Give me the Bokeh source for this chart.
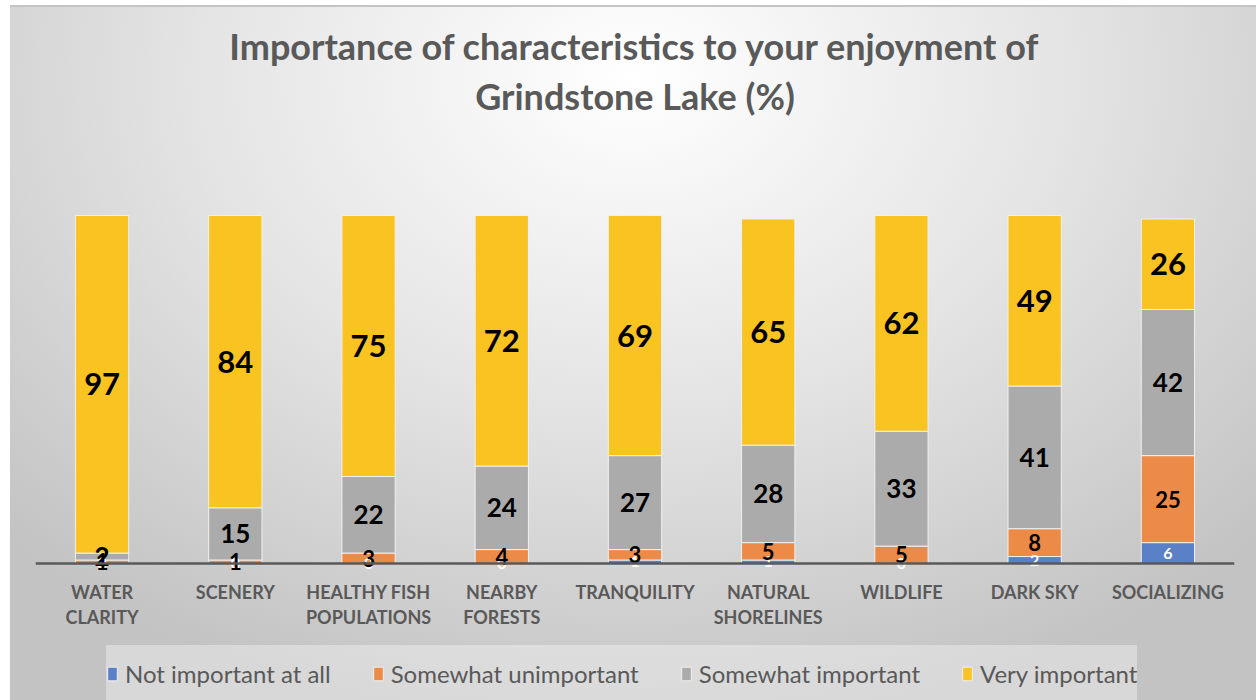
from bokeh.plotting import figure
from bokeh.models import Range1d, FactorRange, Label, Legend, LegendItem, ColumnDataSource
from bokeh.core.properties import value
from bokeh.embed import file_html
from bokeh.resources import INLINE

# ---------------- data ----------------
categories = ["WATER\nCLARITY", "SCENERY", "HEALTHY FISH\nPOPULATIONS", "NEARBY\nFORESTS",
              "TRANQUILITY", "NATURAL\nSHORELINES", "WILDLIFE", "DARK SKY", "SOCIALIZING"]
not_important = [0, 0, 0, 0, 1, 1, 0, 2, 6]
somewhat_unimportant = [1, 1, 3, 4, 3, 5, 5, 8, 25]
somewhat_important = [2, 15, 22, 24, 27, 28, 33, 41, 42]
very_important = [97, 84, 75, 72, 69, 65, 62, 49, 26]
series_names = ["Not important at all", "Somewhat unimportant", "Somewhat important", "Very important"]
title_lines = ["Importance of characteristics to your enjoyment of", "Grindstone Lake (%)"]

# ---------------- layout constants ----------------
FIG_W, FIG_H = 1256, 700
FRAME_LEFT, FRAME_RIGHT = 35, 22
FRAME_W = FIG_W - FRAME_LEFT - FRAME_RIGHT
AXIS_Y = 563                 # px from top to axis line
PX_PER_UNIT = 3.48
Y_TOP = AXIS_Y / PX_PER_UNIT
Y_BOTTOM = -(FIG_H - AXIS_Y) / PX_PER_UNIT
FONT = "Lato"
GREY_TXT = "#595959"
colors = ["#5A80C8", "#EC8A48", "#ABABAB", "#F9C322"]

keys = ["s0", "s1", "s2", "s3"]
series = [not_important, somewhat_unimportant, somewhat_important, very_important]
data = {"cat": categories}
for k, s in zip(keys, series):
    data[k] = s
src = ColumnDataSource(data)

p = figure(x_range=FactorRange(*categories), y_range=Range1d(Y_BOTTOM, Y_TOP),
           frame_width=FRAME_W, frame_height=FIG_H, output_backend="svg", toolbar_location=None,
           title=None, y_axis_location=None,
           min_border_left=FRAME_LEFT, min_border_right=FRAME_RIGHT,
           min_border_top=0, min_border_bottom=0)
p.styles = {
    "background": (
        "linear-gradient(#c4c4c4, #c4c4c4) 10px 5px / 100% 2px no-repeat, "
        "radial-gradient(ellipse 70% 95% at 50% 10%, #ffffff 0%, #e4e4e4 50%, #c3c3c3 100%) "
        "10px 7px / calc(100% - 10px) calc(100% - 7px) no-repeat, #ffffff"
    )
}
p.border_fill_alpha = 0
p.background_fill_alpha = 0
p.outline_line_color = None
p.xgrid.visible = False
p.ygrid.visible = False

ax = p.xaxis[0]
ax.fixed_location = 0
ax.axis_line_color = GREY_TXT
ax.axis_line_width = 2.5
ax.major_tick_line_color = None
ax.minor_tick_line_color = None
ax.major_tick_out = 0
ax.major_tick_in = 0
ax.major_label_standoff = 17
ax.major_label_text_font = FONT
ax.major_label_text_font_style = "bold"
ax.major_label_text_font_size = "18px"
ax.major_label_text_color = GREY_TXT
ax.major_label_text_line_height = 1.15

renderers = p.vbar_stack(keys, x="cat", width=0.4, color=colors, source=src,
                         line_color="#f0f0f0", line_width=1)

# value labels
label_styles = [
    dict(size="16px", color="white"),
    dict(size="22px", color="black"),
    dict(size="26px", color="black"),
    dict(size="31px", color="black"),
]
bottoms = [0] * len(categories)
for s, st in zip(series, label_styles):
    mids = [b + v / 2 for b, v in zip(bottoms, s)]
    ls = ColumnDataSource(dict(cat=categories, y=mids, t=[str(v) for v in s]))
    p.text(x="cat", y="y", text="t", source=ls, text_align="center", text_baseline="middle",
           text_font=value(FONT), text_font_style="bold", text_font_size=value(st["size"]),
           text_color=st["color"])
    bottoms = [b + v for b, v in zip(bottoms, s)]

# title
for line, ypx in zip(title_lines, [45, 95]):
    p.add_layout(Label(x=len(categories) / 2, y=(AXIS_Y - ypx) / PX_PER_UNIT, text=line,
                       text_font=FONT, text_font_style="bold", text_font_size="36px",
                       text_color=GREY_TXT, text_align="center", text_baseline="middle"))

legend = Legend(items=[LegendItem(label=n, renderers=[r]) for n, r in zip(series_names, renderers)],
                orientation="horizontal", location=(71, -1),
                label_text_font=FONT, label_text_font_size="24px", label_text_color=GREY_TXT,
                glyph_width=12, glyph_height=17, label_standoff=7, spacing=41,
                padding=20, margin=0, label_height=56,
                background_fill_color="white", background_fill_alpha=0.35,
                border_line_color=None)
p.add_layout(legend)

open("out.html", "w").write(file_html(p, INLINE))
